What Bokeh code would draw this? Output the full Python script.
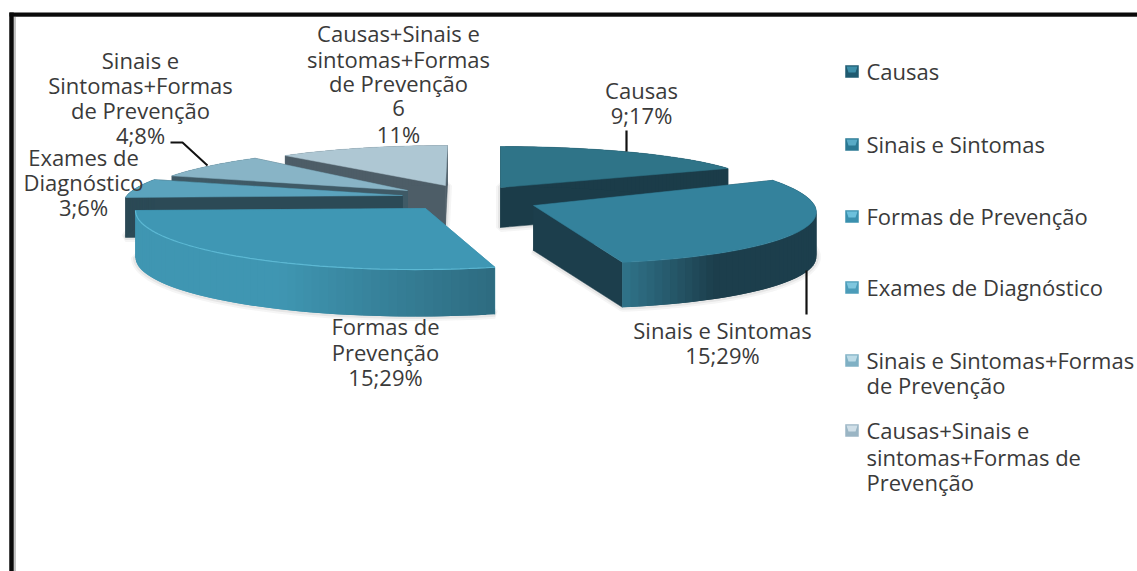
import numpy as np
from bokeh.embed import file_html
from bokeh.resources import INLINE
from bokeh.plotting import figure
from bokeh.core.properties import value

# Number of answers per category, clockwise from twelve o'clock
categories = ["Causas", "Sinais e Sintomas", "Formas de Prevenção", "Exames de Diagnóstico",
              "Sinais e Sintomas+Formas de Prevenção", "Causas+Sinais e sintomas+Formas de Prevenção"]
counts = [9, 15, 15, 3, 4, 6]
legend_lines = [["Causas"], ["Sinais e Sintomas"], ["Formas de Prevenção"], ["Exames de Diagnóstico"],
                ["Sinais e Sintomas+Formas", "de Prevenção"],
                ["Causas+Sinais e", "sintomas+Formas de", "Prevenção"]]
slice_labels = [["Causas", "9;17%"],
                ["Sinais e Sintomas", "15;29%"],
                ["Formas de", "Prevenção", "15;29%"],
                ["Exames de", "Diagnóstico", "3;6%"],
                ["Sinais e", "Sintomas+Formas", "de Prevenção", "4;8%"],
                ["Causas+Sinais e", "sintomas+Formas", "de Prevenção", "6", "11%"]]

W, H = 1137, 571
FONT = "Open Sans"
FONT_SIZE = "22px"
TXT = "#3a3a3a"

# Projection of each exploded slice: apex, image of the x and y unit vectors, wall depth
proj = [
    dict(a=(500, 187), u=(257, 0), v=(0, -41), d=40),
    dict(a=(533, 205), u=(282, 2), v=(-22, -58), d=45),
    dict(a=(425, 208), u=(290, -2), v=(0, -61), d=47),
    dict(a=(402, 195), u=(277, -2), v=(30, -50), d=40),
    dict(a=(407, 190), u=(263, -1), v=(29, -44), d=40),
    dict(a=(445, 185), u=(244, 0), v=(2, -40), d=40),
]
top_col = ["#2f7488", "#34829c", "#3f97b4", "#5ba3bd", "#88b4c6", "#aec7d3"]
wall_col = ["#1b3c49", "#1c3e4c", "#3c8fab", "#2c4a56", "#3f5a66", "#4d5d67"]
arc_light = ["#1b3c49", "#2f7187", "#3f96b2", "#2c4a56", "#3f5a66", "#4d5d67"]
arc_dark = ["#1b3c49", "#1c3e4c", "#2e6c81", "#2c4a56", "#3f5a66", "#4d5d67"]

fracs = np.cumsum([0] + counts) / sum(counts) * 2 * np.pi
spans = list(zip(fracs[:-1], fracs[1:]))


def pt(i, th, drop=0.0):
    g = proj[i]
    return (g["a"][0] + np.sin(th) * g["u"][0] + np.cos(th) * g["v"][0],
            g["a"][1] + np.sin(th) * g["u"][1] + np.cos(th) * g["v"][1] + drop)


def blend(c0, c1, t):
    a = [int(c0[k:k + 2], 16) for k in (1, 3, 5)]
    b = [int(c1[k:k + 2], 16) for k in (1, 3, 5)]
    return "#%02x%02x%02x" % tuple(int(round(x + (y - x) * t)) for x, y in zip(a, b))


def wall_shade(i, k, n):
    # the lit end of the outer wall sits next to the 166 degree corner
    f = k / (n - 1)
    if i == 2:
        return blend(arc_light[i], arc_dark[i], max(0.0, 1.0 - f / 0.42))
    if i == 1:
        return blend(arc_dark[i], arc_light[i], max(0.0, 1.0 - (1.0 - f) / 0.2))
    return arc_dark[i]


p = figure(width=W, height=H, x_range=(0, W), y_range=(H, 0), output_backend="svg",
           toolbar_location=None, min_border=0, background_fill_color="white",
           border_fill_color="white", outline_line_color=None)
p.xaxis.visible = False
p.yaxis.visible = False
p.grid.visible = False

# Frame: heavy rule along the top and left, thin grey rule inside it
p.line([14.5, 14.5], [16, H], line_color="#b0b0b0", line_width=1.5)
p.line([13, W], [16, 16], line_color="#909090", line_width=1.2)
p.line([11, 11], [12, H], line_color="#0a0a0a", line_width=4.5)
p.line([9, W], [14, 14], line_color="#0a0a0a", line_width=4)


def draw_slice(i):
    g = proj[i]
    t0, t1 = spans[i]
    th = np.linspace(t0, t1, 60)
    ax, ay = g["a"]
    d = g["d"]
    tx, ty = pt(i, th)
    # soft shadow round the lower body
    sx = np.concatenate([[ax], tx, [ax]])
    sy = np.concatenate([[ay + d], ty + d, [ay + d]])
    for lw, al in ((9, 0.05), (5, 0.08)):
        p.patch(sx, sy, fill_alpha=0, line_color="#404040", line_alpha=al, line_width=lw)
    # radial walls
    for t in (t0, t1):
        ex, ey = pt(i, t)
        p.patch([ax, ex, ex, ax], [ay, ey, ey + d, ay + d],
                fill_color=wall_col[i], line_color=wall_col[i], line_width=0.5)
    # outer wall, shaded in narrow strips that overlap the next one
    n = len(th) - 1
    for k in range(n):
        x0, y0 = pt(i, th[k])
        x1, y1 = pt(i, th[min(k + 2, n)])
        shade = wall_shade(i, k, n)
        p.patch([x0, x1, x1, x0], [y0, y1, y1 + d, y0 + d], fill_color=shade, line_color=None)
    # top face
    p.patch(np.concatenate([[ax], tx]), np.concatenate([[ay], ty]),
            fill_color=top_col[i], line_color=top_col[i], line_width=0.5)
    if i == 2:
        p.line(tx, ty, line_color="#5cb8d3", line_width=1.2)


# back slices first so the nearer ones overlap them
for i in (5, 4, 3, 2, 0, 1):
    draw_slice(i)

# Leader lines
p.line([626, 626], [130, 151], line_color="#111111", line_width=2.2)
p.line([806, 806], [270, 314], line_color="#111111", line_width=2.2)
p.line([170, 182, 207], [142, 142, 165], line_color="#111111", line_width=2)

# Data labels: horizontal centre and row positions per slice
label_x = [641, 722, 385, 83, 140, 398]
label_y = [[89, 114], [329, 354], [325, 351, 376], [156, 181, 206], [59, 84, 109, 134], [32, 58, 82, 107, 133]]
for i, lines in enumerate(slice_labels):
    p.text([label_x[i]] * len(lines), label_y[i], text=lines, text_font=value(FONT), text_font_size=FONT_SIZE,
           text_color=TXT, text_align="center", text_baseline="middle")

# Legend
legend_y = [[70], [143], [215], [286], [359, 384], [429, 456, 481]]
key_col = ["#1f5a70", "#2a7893", "#3a90ae", "#4b9cb9", "#7fb0c4", "#9ab5c4"]
key_top = ["#3d8ea8", "#58aac6", "#6cc0dc", "#7fc6de", "#bcdbe7", "#d0dfe8"]
for i, lines in enumerate(legend_lines):
    cy = legend_y[i][0] + 1
    x0, x1, y0, y1 = 845, 858, cy - 6, cy + 6
    p.patch([x0, x1, x1, x0], [y0, y0, y1, y1], fill_color=key_col[i], line_color=key_col[i], line_width=0.5)
    p.patch([x0 + 1, x1 - 1, x1 - 3, x0 + 3], [y0 + 1, y0 + 1, y0 + 7, y0 + 7], fill_color=key_top[i], line_color=None)
    p.text([866] * len(lines), legend_y[i], text=lines, text_font=value(FONT), text_font_size=FONT_SIZE,
           text_color=TXT, text_align="left", text_baseline="middle")

open("out.html", "w").write(file_html(p, INLINE))
